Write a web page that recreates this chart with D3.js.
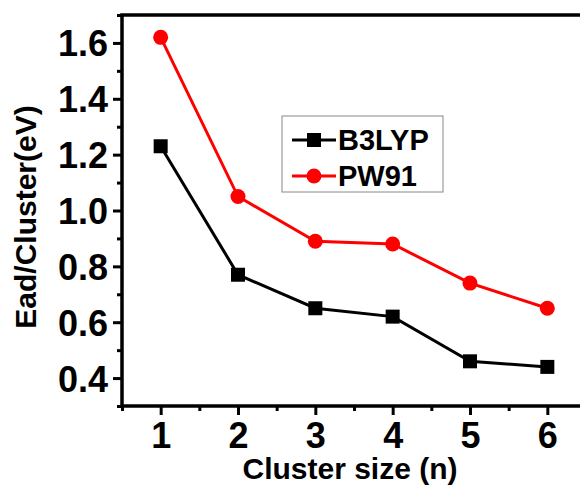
<!DOCTYPE html>
<html>
<head>
<meta charset="utf-8">
<script src="https://cdn.jsdelivr.net/npm/d3@7"></script>
<style>
  body { margin: 0; background: #fff; overflow: hidden; }
  text { font-family: "Liberation Sans", Arial, sans-serif; font-weight: bold; }
</style>
</head>
<body>
<div id="chart"></div>
<script>
// data
var clusterSize = [1, 2, 3, 4, 5, 6];
var b3lyp = [1.23, 0.77, 0.65, 0.62, 0.46, 0.44];
var pw91 = [1.62, 1.05, 0.89, 0.88, 0.74, 0.65];
var yTicks = [0.4, 0.6, 0.8, 1.0, 1.2, 1.4, 1.6];
var seriesNames = ["B3LYP", "PW91"];

var margin = {top: 15, right: -6, bottom: 81, left: 122},
    width = 580 - margin.left - margin.right,
    height = 487 - margin.top - margin.bottom;

var svg = d3.select("#chart").append("svg")
    .attr("width", 580)
    .attr("height", 487);

var g = svg.append("g")
    .attr("transform", "translate(" + margin.left + "," + margin.top + ")");

var x = d3.scaleLinear().domain([0.5, 6.5]).range([0, width]);
var y = d3.scaleLinear().domain([0.3, 1.7]).range([height, 0]);

// minor ticks first
g.append("g")
    .attr("transform", "translate(0," + height + ")")
    .call(d3.axisBottom(x).tickValues(d3.range(0.5, 7, 1)).tickSize(5).tickFormat(""))
    .call(function(a) { a.select(".domain").remove(); a.selectAll("line").attr("stroke-width", 3); });

g.append("g")
    .call(d3.axisLeft(y).tickValues(d3.range(0.3, 1.75, 0.2)).tickSize(5).tickFormat(""))
    .call(function(a) { a.select(".domain").remove(); a.selectAll("line").attr("stroke-width", 3); });

// major ticks + labels
var xAxis = g.append("g")
    .attr("transform", "translate(0," + height + ")")
    .call(d3.axisBottom(x).tickValues(clusterSize).tickSize(9).tickPadding(7).tickFormat(d3.format("d")));
xAxis.select(".domain").remove();
xAxis.selectAll("line").attr("stroke-width", 3);
xAxis.selectAll("text").style("font-size", "36px").attr("fill", "#000");

var yAxis = g.append("g")
    .call(d3.axisLeft(y).tickValues(yTicks).tickSize(9).tickPadding(5).tickFormat(d3.format(".1f")));
yAxis.select(".domain").remove();
yAxis.selectAll("line").attr("stroke-width", 3);
yAxis.selectAll("text").style("font-size", "36px").attr("fill", "#000").attr("dy", "0.36em");

// frame
g.append("rect")
    .attr("width", width)
    .attr("height", height)
    .attr("fill", "none")
    .attr("stroke", "#000")
    .attr("stroke-width", 3.5);

// axis titles
svg.append("text")
    .attr("x", margin.left + x(3.5) - 4)
    .attr("y", 479)
    .attr("text-anchor", "middle")
    .style("font-size", "30px")
    .text("Cluster size (n)");

svg.append("text")
    .attr("transform", "translate(36," + 217 + ") rotate(-90)")
    .attr("text-anchor", "middle")
    .style("font-size", "30px")
    .text("Ead/Cluster(eV)");

// lines
var line = d3.line()
    .x(function(d, i) { return x(clusterSize[i]); })
    .y(function(d) { return y(d); });

g.append("path").datum(b3lyp)
    .attr("d", line).attr("fill", "none").attr("stroke", "#000").attr("stroke-width", 3);
g.append("path").datum(pw91)
    .attr("d", line).attr("fill", "none").attr("stroke", "#f00").attr("stroke-width", 3);

g.selectAll(".sq").data(b3lyp).enter().append("rect")
    .attr("class", "sq")
    .attr("x", function(d, i) { return x(clusterSize[i]) - 7; })
    .attr("y", function(d) { return y(d) - 7; })
    .attr("width", 14).attr("height", 14)
    .attr("fill", "#000");

g.selectAll(".dot").data(pw91).enter().append("circle")
    .attr("class", "dot")
    .attr("cx", function(d, i) { return x(clusterSize[i]); })
    .attr("cy", function(d) { return y(d); })
    .attr("r", 7.5)
    .attr("fill", "#f00");

// legend
var legend = svg.append("g").attr("transform", "translate(282,116)");
legend.append("rect")
    .attr("width", 161).attr("height", 76)
    .attr("fill", "#fff").attr("stroke", "#888").attr("stroke-width", 1);

var rows = legend.selectAll(".row").data(seriesNames).enter().append("g")
    .attr("class", "row")
    .attr("transform", function(d, i) { return "translate(0," + (24 + i * 36) + ")"; });
rows.append("line")
    .attr("x1", 10).attr("x2", 54)
    .attr("stroke", function(d, i) { return i ? "#f00" : "#000"; })
    .attr("stroke-width", 3);
rows.filter(function(d, i) { return i === 0; }).append("rect")
    .attr("x", 25).attr("y", -7).attr("width", 14).attr("height", 14).attr("fill", "#000");
rows.filter(function(d, i) { return i === 1; }).append("circle")
    .attr("cx", 32).attr("r", 7.5).attr("fill", "#f00");
rows.append("text")
    .attr("x", 56).attr("dy", "0.36em")
    .style("font-size", "29px")
    .text(function(d) { return d; });
</script>
</body>
</html>
